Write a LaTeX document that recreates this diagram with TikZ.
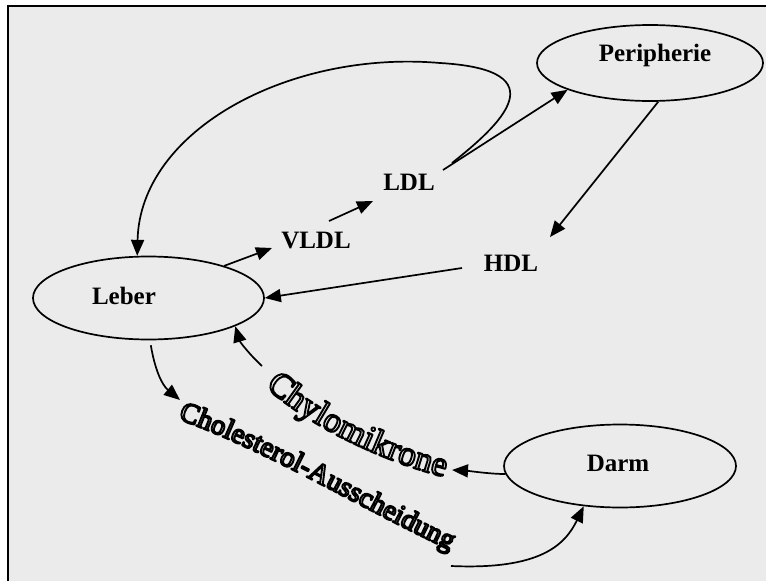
\documentclass[tikz,border=0pt]{standalone}
\usepackage{fontspec}
\setmainfont{Liberation Serif}
\usetikzlibrary{arrows.meta,shapes.geometric,decorations.text}
\definecolor{panelgray}{RGB}{235,235,235}
\newcommand{\chylofont}{\fontsize{35}{38}\selectfont}
\newcommand{\cholfont}{\fontsize{28.5}{32}\selectfont}
% hollow lettering: outline only
\makeatletter
\newcommand{\hollowletters}{\pgfsys@invoke{1 Tr 1.9 w 0 G 1 j}}
\makeatother
\begin{document}
\begin{tikzpicture}[x=1pt,y=-1pt,
  organ/.style={ellipse, draw, line width=1.7pt, inner sep=0pt},
  lbl/.style={font=\fontsize{25}{30}\selectfont\bfseries, inner sep=2pt},
  flow/.style={line width=1.7pt, -{Triangle[length=16pt,width=13pt]}},
]
\useasboundingbox (0,0) rectangle (766,581);
\fill[white] (0,0) rectangle (766,581);
\fill[panelgray] (8,6) rectangle (766,581);
\draw[line width=2pt] (8,581) -- (8,6) -- (766,6);

% organs
\node[organ, minimum width=231pt, minimum height=83pt] (leber) at (148.5,298) {};
\node[organ, minimum width=226pt, minimum height=76pt] (peri) at (650,63) {};
\node[organ, minimum width=232pt, minimum height=83pt] (darm) at (620,466) {};
\node[lbl] (leberT) at (124,296) {Leber};
\node[lbl] (periT) at (655,55) {Peripherie};
\node[lbl] (darmT) at (618,463) {Darm};

% lipoproteins
\node[lbl] (vldl) at (316,241) {VLDL};
\node[lbl] (ldl) at (409,182) {LDL};
\node[lbl] (hdl) at (511,263) {HDL};

% connector ends beside the labels
\coordinate (vldl-in) at (272,248);
\coordinate (vldl-out) at (329,221);
\coordinate (ldl-in) at (373,201);
\coordinate (ldl-out) at (443,170);
\coordinate (ldl-loop) at (452,163);
\coordinate (hdl-in) at (550,237);
\coordinate (hdl-out) at (462,268);
\coordinate (chylo-in) at (452,470);
\coordinate (chylo-out) at (262,366);
\coordinate (chol-in) at (180,400);
\coordinate (chol-out) at (451,566);

% transport routes
\draw[flow] (leber.23) -- (vldl-in);
\draw[flow] (vldl-out) -- (ldl-in);
\draw[flow] (ldl-out) -- (peri.198);
\draw[flow] (peri.-78) -- (hdl-in);
\draw[flow] (hdl-out) -- (leber.0);
\draw[flow] (ldl-loop) .. controls (500,125) and (560,70) .. (440,63)
  .. controls (290,50) and (140,130) .. (leber.105);
\draw[flow] (chylo-out) .. controls (250,355) and (240,342) .. (leber.-18);
\draw[flow] (darm.184) .. controls (490,474) and (470,471) .. (chylo-in);
\draw[flow, shorten <=5pt] (leber.-88) .. controls (155,370) and (162,385) .. (chol-in);
\draw[flow] (chol-out) .. controls (540,570) and (565,545) .. (darm.228);

% curved labels
\begin{scope}
\hollowletters
\path[decorate, decoration={text along path, text align=center,
  text={|\chylofont|Chylomikrone}}]
  (262,383) .. controls (298,420) and (380,462) .. (449,478);
\path[decorate, decoration={text along path, text align=center,
  text={|\cholfont|Cholesterol-Ausscheidung}}]
  (178,419) .. controls (270,452) and (360,508) .. (450,550);
\end{scope}
\end{tikzpicture}
\end{document}
